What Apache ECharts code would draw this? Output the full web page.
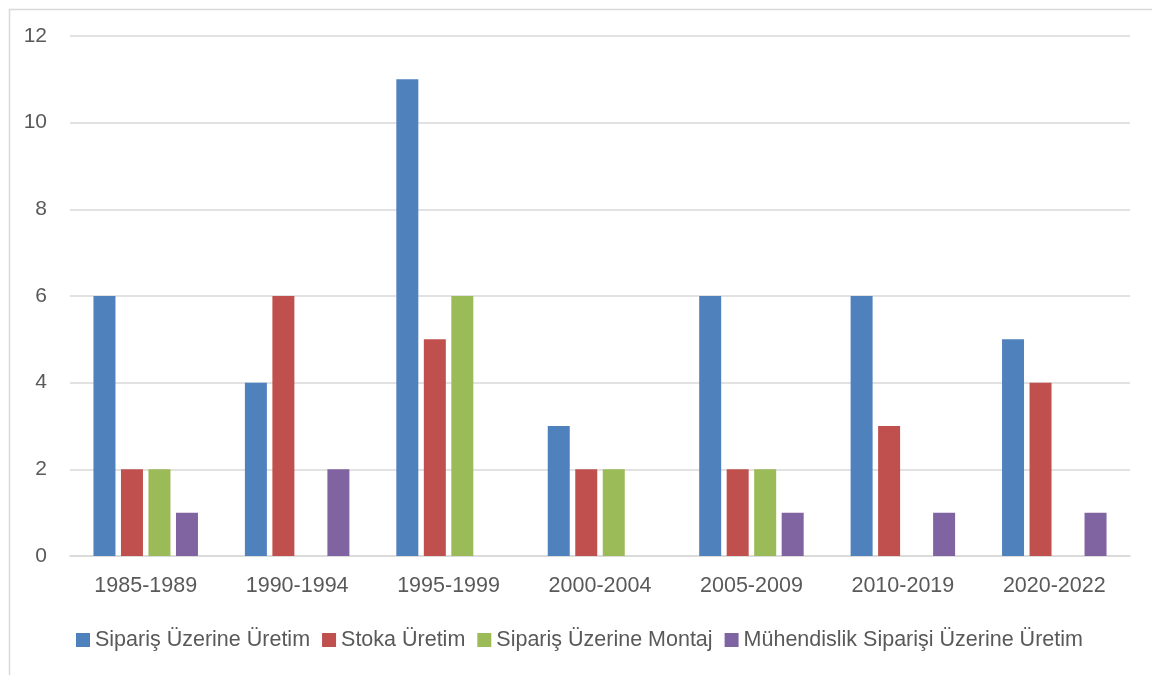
<!DOCTYPE html>
<html>
<head>
<meta charset="utf-8">
<script src="https://cdn.jsdelivr.net/npm/echarts@6/dist/echarts.min.js"></script>
<style>
  html, body { margin: 0; padding: 0; background: #fff; }
  #chart { width: 1152px; height: 675px; }
</style>
</head>
<body>
<div id="chart"></div>
<script>
// Periods on the category axis
const periods = ['1985-1989', '1990-1994', '1995-1999', '2000-2004', '2005-2009', '2010-2019', '2020-2022'];

// Counts per production strategy (null = no bar)
const siparisUzerineUretim = [6, 4, 11, 3, 6, 6, 5];
const stokaUretim = [2, 6, 5, 2, 2, 3, 4];
const siparisUzerineMontaj = [2, null, 6, 2, 2, null, null];
const muhendislikSiparisi = [1, 2, null, null, 1, 1, 1];

const seriesNames = ['Sipariş Üzerine Üretim', 'Stoka Üretim', 'Sipariş Üzerine Montaj', 'Mühendislik Siparişi Üzerine Üretim'];
const seriesColors = ['#4F81BD', '#C0504D', '#9BBB59', '#8064A2'];
const seriesData = [siparisUzerineUretim, stokaUretim, siparisUzerineMontaj, muhendislikSiparisi];

const FONT = "'Liberation Sans', 'DejaVu Sans', sans-serif";
const TEXT = '#595959';
const GRID = '#d9d9d9';

const chart = echarts.init(document.getElementById('chart'), null, { renderer: 'canvas' });

chart.setOption({
  backgroundColor: '#ffffff',
  animation: false,
  textStyle: { fontFamily: FONT },
  graphic: [{
    type: 'rect',
    left: 7, top: 7,
    shape: { width: 1200, height: 700 },
    style: { fill: 'none', stroke: GRID, lineWidth: 1.5 },
    silent: true,
    z: -1
  }],
  grid: { left: 70, right: 22, top: 36, bottom: 119 },
  legend: {
    left: 76,
    top: 629,
    padding: 0,
    icon: 'rect',
    itemWidth: 14,
    itemHeight: 14,
    itemGap: 12,
    textStyle: { color: TEXT, fontSize: 21.5, fontFamily: FONT },
    data: seriesNames
  },
  xAxis: {
    type: 'category',
    data: periods,
    axisLine: { lineStyle: { color: GRID, width: 1.5 } },
    axisTick: { show: false },
    axisLabel: { color: TEXT, fontSize: 21.5, fontFamily: FONT, margin: 19 }
  },
  yAxis: {
    type: 'value',
    min: 0,
    max: 12,
    interval: 2,
    axisLine: { show: false },
    axisTick: { show: false },
    splitLine: { lineStyle: { color: GRID, width: 1.5 } },
    axisLabel: { color: TEXT, fontSize: 21, fontFamily: FONT, margin: 23 }
  },
  series: seriesNames.map((name, i) => ({
    name: name,
    type: 'bar',
    data: seriesData[i],
    barWidth: 22,
    barGap: '25%',
    itemStyle: { color: seriesColors[i] }
  }))
});
</script>
</body>
</html>
